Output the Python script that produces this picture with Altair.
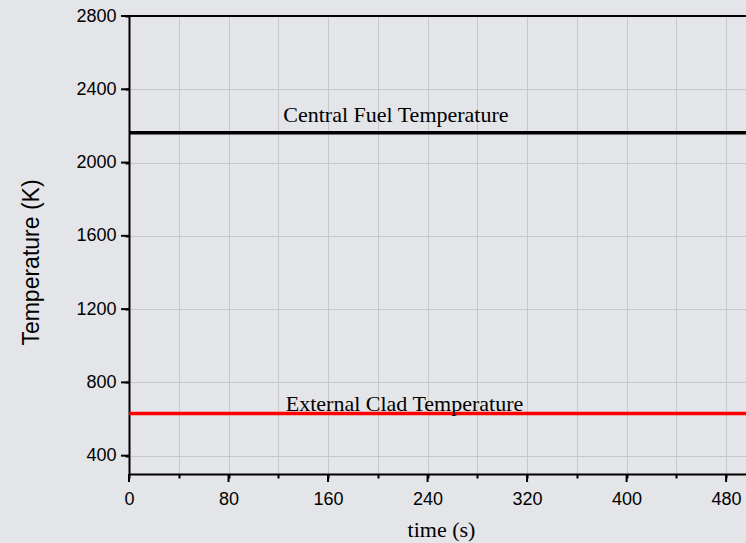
import altair as alt
import pandas as pd

# data
time_s = [0, 500]
central_fuel = [2163, 2163]
external_clad = [630, 630]

x_grid = [0, 40, 80, 120, 160, 200, 240, 280, 320, 360, 400, 440, 480]
x_major = [0, 80, 160, 240, 320, 400, 480]
y_grid = [400, 600, 800, 1000, 1200, 1400, 1600, 1800, 2000, 2200, 2400, 2600, 2800]
y_major = [400, 800, 1200, 1600, 2000, 2400, 2800]

ann_text = ["Central Fuel Temperature", "External Clad Temperature"]
ann_x = [124, 126]
ann_y = [2222, 645]

W, H = 617, 458
XDOM = [0, 496]
YDOM = [300, 2800]

lines_df = pd.DataFrame({
    "time": time_s * 2,
    "temp": central_fuel + external_clad,
    "series": ["Central Fuel Temperature"] * 2 + ["External Clad Temperature"] * 2,
})
ann_df = pd.DataFrame({"t": ann_x, "v": ann_y, "label": ann_text})
xmaj_df = pd.DataFrame({"t": x_major})
ymaj_df = pd.DataFrame({"v": y_major})

xs = alt.Scale(domain=XDOM, nice=False, zero=False)
ys = alt.Scale(domain=YDOM, nice=False, zero=False)

x_axis = alt.Axis(
    values=x_grid, title="time (s)", grid=True, gridColor="#c6c7cb", gridWidth=1,
    tickSize=4, tickColor="black", tickWidth=2, domainColor="black", domainWidth=2,
    format="d", labelFlush=False,
    labelExpr="datum.value % 80 == 0 ? datum.label : ''",
    labelFont="Liberation Sans", labelFontSize=18, labelColor="black", labelPadding=12,
    titleFont="Liberation Serif", titleFontSize=22, titleFontWeight="normal", titleColor="black",
    titleBaseline="alphabetic", titleY=62, titleX=312,
)
y_axis = alt.Axis(
    values=y_grid, title="Temperature (K)", grid=True, gridColor="#c6c7cb", gridWidth=1,
    tickSize=4, tickColor="black", tickWidth=2, domainColor="black", domainWidth=2,
    format="d", labelFlush=False,
    labelExpr="datum.value % 400 == 0 ? datum.label : ''",
    labelFont="Liberation Sans", labelFontSize=18, labelColor="black", labelPadding=9,
    titleFont="Liberation Sans", titleFontSize=23, titleFontWeight="normal", titleColor="black",
    titleX=-86, titleY=246, titleBaseline="bottom",
)

lines = alt.Chart(lines_df).mark_line(strokeWidth=3.5, clip=True).encode(
    x=alt.X("time:Q", scale=xs, axis=x_axis),
    y=alt.Y("temp:Q", scale=ys, axis=y_axis),
    color=alt.Color("series:N", scale=alt.Scale(
        domain=["Central Fuel Temperature", "External Clad Temperature"],
        range=["#000000", "#ff0000"]), legend=None),
)

ann = alt.Chart(ann_df).mark_text(
    font="Liberation Serif", fontSize=22, align="left", baseline="alphabetic", color="black"
).encode(x=alt.X("t:Q", scale=xs), y=alt.Y("v:Q", scale=ys), text="label:N")

xticks = alt.Chart(xmaj_df).mark_rule(color="black", strokeWidth=2).encode(
    x=alt.X("t:Q", scale=xs), y=alt.value(H), y2=alt.value(H + 8))
yticks = alt.Chart(ymaj_df).mark_rule(color="black", strokeWidth=2).encode(
    y=alt.Y("v:Q", scale=ys), x=alt.value(0), x2=alt.value(-8))

top_border = alt.Chart(xmaj_df).mark_rule(color="black", strokeWidth=2).encode(
    x=alt.value(0), x2=alt.value(W), y=alt.value(0))

chart = alt.layer(lines, ann, xticks, yticks, top_border).properties(
    width=W, height=H,
    background="#e4e5e8",
    padding={"left": 129, "top": 16, "right": 0, "bottom": 69},
    autosize=alt.AutoSizeParams(type="none"),
).configure_view(stroke=None)

chart.save("out.html", embed_options={"renderer": "svg", "actions": False})
